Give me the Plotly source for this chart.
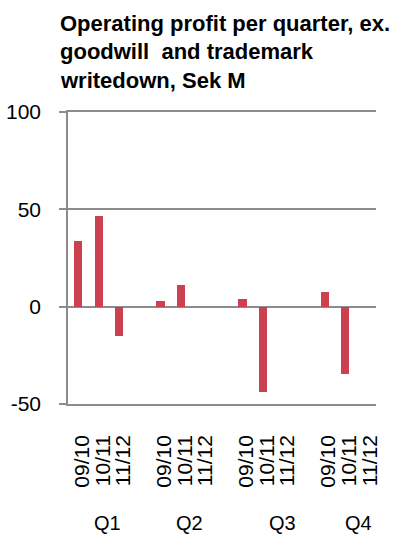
import plotly.graph_objects as go

quarters = ["Q1", "Q2", "Q3", "Q4"]
years = ["09/10", "10/11", "11/12"]
# values per quarter for years 09/10, 10/11, 11/12 (None = no bar)
q1 = [33.5, 46.5, -15]
q2 = [2.8, 11.3, None]
q3 = [4, -44, None]
q4 = [7.4, -34.5, None]
series = [q1, q2, q3, q4]
y_ticks = [-50, 0, 50, 100]
y_tick_text = ["-50", "0", "50", "100"]
title_lines = ["Operating profit per quarter, ex.", "goodwill&nbsp; and trademark", "writedown, Sek M"]

xs, ys, tv, tt = [], [], [], []
for g, vals in enumerate(series):
    for i, v in enumerate(vals):
        pos = g * 4 + i
        tv.append(pos)
        tt.append(years[i])
        if v is not None:
            xs.append(pos)
            ys.append(v)

W, H = 404, 536
ML, MR, MT, MB = 68, 28, 112, 132
PH = H - MT - MB
PW = W - ML - MR


def py(ypx):
    return (H - MB - ypx) / PH


def px(xpx):
    return (xpx - ML) / PW


fig = go.Figure()
fig.add_trace(go.Bar(x=xs, y=ys, width=0.4, marker=dict(color="#CC4150", line=dict(width=0)),
                     showlegend=False))

grid = "#8C8C8C"
FONT = "Liberation Sans"
fig.update_layout(
    width=W, height=H,
    margin=dict(l=ML, r=MR, t=MT, b=MB, autoexpand=False),
    plot_bgcolor="white", paper_bgcolor="white",
    font=dict(family=FONT, color="black"),
    xaxis=dict(range=[-0.5, 14.5], tickmode="array", tickvals=tv, ticktext=tt,
               tickangle=-90, tickfont=dict(size=21, family=FONT), showgrid=False, zeroline=False,
               showline=True, mirror=True, linecolor=grid, linewidth=1.5,
               ticks="", ticklabelstandoff=21, ticklabelshift=4, automargin=False),
    yaxis=dict(range=[-50, 100], tickmode="array", tickvals=y_ticks, ticktext=y_tick_text,
               tickfont=dict(size=21, family=FONT),
               showgrid=True, gridcolor=grid, gridwidth=1.5, zeroline=True,
               zerolinecolor=grid, zerolinewidth=1.5, showline=True, linecolor=grid,
               linewidth=1.5, ticks="outside", ticklen=7, tickcolor=grid, tickwidth=1.5,
               ticklabelstandoff=14, automargin=False),
    bargap=0,
)

q_pos = [1.42, 5.44, 9.97, 13.67]
for q, p in zip(quarters, q_pos):
    fig.add_annotation(x=p, y=py(523), xref="x", yref="paper", text=q, showarrow=False,
                       font=dict(size=20, family=FONT), yanchor="middle")

for k, line in enumerate(title_lines):
    fig.add_annotation(x=px(58), y=py(23 + 28.5 * k), xref="paper", yref="paper",
                       xanchor="left", yanchor="middle", align="left", showarrow=False,
                       text="<b>" + line + "</b>",
                       font=dict(family=FONT, size=22))

fig.write_html("out.html", config={"displayModeBar": False},
               post_script="document.body.style.margin='0';")
